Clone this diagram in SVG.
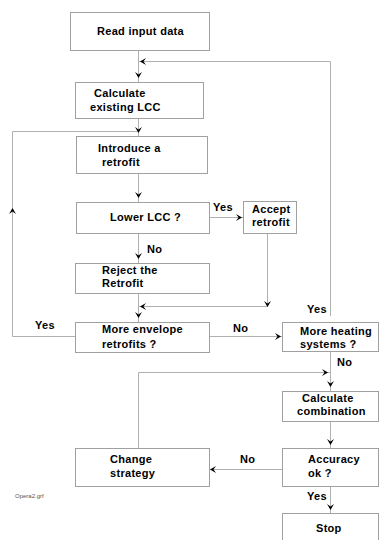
<svg xmlns="http://www.w3.org/2000/svg" xmlns:xlink="http://www.w3.org/1999/xlink" width="379" height="540" viewBox="0 0 379 540">
<style>
.box{fill:#fff;stroke:#a0a0a0;stroke-width:1}
.ln{fill:none;stroke:#b0b0b0;stroke-width:1}
.t{font-family:"Liberation Sans",Arial,sans-serif;font-size:11px;font-weight:bold;fill:#000;letter-spacing:0.3px}
.s{font-family:"Liberation Sans",Arial,sans-serif;font-size:6px;fill:#555}
</style>
<defs>
<path id="ah" d="M0,0 L-3.5,-6 L0,-3.5 L3.5,-6 Z" fill="#000"/>
</defs>
<rect width="379" height="540" fill="#fff"/>
<g id="connectors">
<path class="ln" d="M138.5,50 V82"/>
<path class="ln" d="M330.5,316 V61.5 H138.5"/>
<path class="ln" d="M138.5,118 V136"/>
<path class="ln" d="M138.5,131.5 H12.5 V336.5 H75"/>
<path class="ln" d="M138.5,173 V202"/>
<path class="ln" d="M209,217.5 H243"/>
<path class="ln" d="M138.5,233 V263"/>
<path class="ln" d="M267.5,233 V306.5 H138.5"/>
<path class="ln" d="M138.5,293 V322"/>
<path class="ln" d="M209,336.5 H282"/>
<path class="ln" d="M330.5,352 V391"/>
<path class="ln" d="M138.5,448 V372.5 H330.5"/>
<path class="ln" d="M330.5,421 V448"/>
<path class="ln" d="M282,469.5 H209"/>
<path class="ln" d="M330.5,486 V513"/>
<use xlink:href="#ah" transform="translate(138.5,78)"/>
<use xlink:href="#ah" transform="translate(140,61.5) rotate(90)"/>
<use xlink:href="#ah" transform="translate(138.5,133)"/>
<use xlink:href="#ah" transform="translate(12.5,208) rotate(180)"/>
<use xlink:href="#ah" transform="translate(138.5,198)"/>
<use xlink:href="#ah" transform="translate(242,217.5) rotate(-90)"/>
<use xlink:href="#ah" transform="translate(138.5,259)"/>
<use xlink:href="#ah" transform="translate(267.5,307)"/>
<use xlink:href="#ah" transform="translate(140,306.5) rotate(90)"/>
<use xlink:href="#ah" transform="translate(138.5,318)"/>
<use xlink:href="#ah" transform="translate(281,336.5) rotate(-90)"/>
<use xlink:href="#ah" transform="translate(330.5,387)"/>
<use xlink:href="#ah" transform="translate(328,372.5) rotate(-90)"/>
<use xlink:href="#ah" transform="translate(330.5,445)"/>
<use xlink:href="#ah" transform="translate(210,469.5) rotate(90)"/>
<use xlink:href="#ah" transform="translate(330.5,510)"/>
<text class="t" x="213" y="211">Yes</text>
<text class="t" x="147" y="253">No</text>
<text class="t" x="307" y="313">Yes</text>
<text class="t" x="35" y="329">Yes</text>
<text class="t" x="233" y="332">No</text>
<text class="t" x="337" y="366">No</text>
<text class="t" x="240" y="463">No</text>
<text class="t" x="307" y="500">Yes</text>
</g>
<g id="read"><rect class="box" x="70.5" y="12.5" width="139" height="38"/><text class="t" x="97" y="35">Read input data</text></g>
<g id="calc-lcc"><rect class="box" x="75.5" y="82.5" width="128" height="36"/><text class="t" x="94" y="97">Calculate</text><text class="t" x="90" y="111">existing LCC</text></g>
<g id="introduce"><rect class="box" x="76.5" y="136.5" width="131" height="37"/><text class="t" x="98" y="152">Introduce a</text><text class="t" x="102" y="166">retrofit</text></g>
<g id="lower"><rect class="box" x="76.5" y="202.5" width="133" height="31"/><text class="t" x="110" y="221">Lower LCC ?</text></g>
<g id="accept"><rect class="box" x="243.5" y="201.5" width="53" height="32"/><text class="t" x="252" y="213">Accept</text><text class="t" x="252" y="226">retrofit</text></g>
<g id="reject"><rect class="box" x="75.5" y="263.5" width="134" height="30"/><text class="t" x="102" y="274">Reject the</text><text class="t" x="102" y="287">Retrofit</text></g>
<g id="envelope"><rect class="box" x="75.5" y="322.5" width="134" height="30"/><text class="t" x="102" y="333">More envelope</text><text class="t" x="102" y="348">retrofits ?</text></g>
<g id="heating"><rect class="box" x="282.5" y="322.5" width="96" height="29"/><text class="t" x="300" y="335">More heating</text><text class="t" x="300" y="348">systems ?</text></g>
<g id="combination"><rect class="box" x="282.5" y="391.5" width="96" height="30"/><text class="t" x="302" y="402">Calculate</text><text class="t" x="297" y="415">combination</text></g>
<g id="change"><rect class="box" x="75.5" y="448.5" width="134" height="38"/><text class="t" x="110" y="463">Change</text><text class="t" x="110" y="477">strategy</text></g>
<g id="accuracy"><rect class="box" x="282.5" y="448.5" width="96" height="38"/><text class="t" x="308" y="463">Accuracy</text><text class="t" x="308" y="477">ok ?</text></g>
<g id="stop"><rect class="box" x="282.5" y="513.5" width="96" height="40"/><text class="t" x="316" y="532">Stop</text></g>
<text class="s" x="15" y="498">Opera2.grf</text>
</svg>
